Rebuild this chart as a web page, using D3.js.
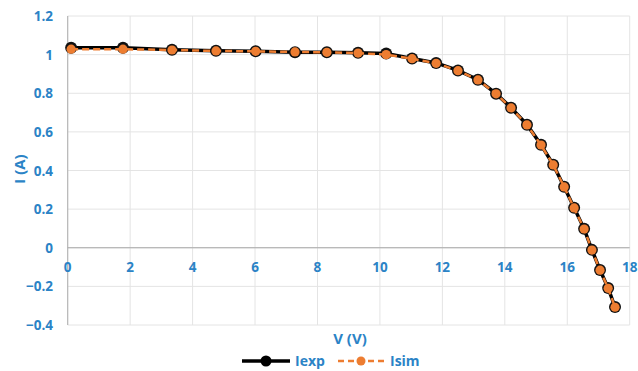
<!DOCTYPE html>
<html>
<head>
<meta charset="utf-8">
<script src="https://cdn.jsdelivr.net/npm/d3@7"></script>
<style>
  body { margin: 0; background: #fff; }
  svg text { font-family: "Open Sans", sans-serif; font-weight: bold; fill: #2b83c6; }
</style>
</head>
<body>
<div id="chart"></div>
<script>
// measured voltage (V) and current (A)
var voltage = [0.11, 1.77, 3.34, 4.75, 6.02, 7.28, 8.30, 9.30, 10.2, 11.03, 11.8, 12.5,
    13.14, 13.72, 14.2, 14.71, 15.16, 15.55, 15.9, 16.22, 16.54, 16.79, 17.05, 17.31, 17.53];
var iexp = [1.035, 1.035, 1.025, 1.02, 1.018, 1.012, 1.012, 1.01, 1.006, 0.98, 0.957, 0.918,
    0.87, 0.798, 0.725, 0.637, 0.533, 0.43, 0.316, 0.207, 0.098, -0.011, -0.115, -0.209, -0.307];
var isim = [1.028, 1.028, 1.024, 1.019, 1.017, 1.014, 1.012, 1.008, 1.0, 0.979, 0.955, 0.917,
    0.869, 0.797, 0.724, 0.636, 0.532, 0.429, 0.315, 0.206, 0.097, -0.012, -0.116, -0.21, -0.308];
var xTicks = [0, 2, 4, 6, 8, 10, 12, 14, 16, 18];
var yTicks = [-0.4, -0.2, 0, 0.2, 0.4, 0.6, 0.8, 1, 1.2];

var width = 638, height = 371;
var svg = d3.select("#chart").append("svg")
    .attr("width", width)
    .attr("height", height);

var x = d3.scaleLinear().domain([0, 18]).range([67.7, 629.7]);
var y = d3.scaleLinear().domain([-0.4, 1.2]).range([325, 16]);

// gridlines
svg.append("g").selectAll("line.h")
    .data(yTicks).enter().append("line")
    .attr("x1", x(0)).attr("x2", x(18))
    .attr("y1", function (d) { return y(d); })
    .attr("y2", function (d) { return y(d); })
    .attr("stroke", "#e4e4e4").attr("stroke-width", 1);

svg.append("g").selectAll("line.v")
    .data(xTicks.slice(1)).enter().append("line")
    .attr("x1", function (d) { return x(d); })
    .attr("x2", function (d) { return x(d); })
    .attr("y1", y(1.2)).attr("y2", y(-0.4))
    .attr("stroke", "#e4e4e4").attr("stroke-width", 1);

// axis lines
svg.append("line")
    .attr("x1", x(0)).attr("x2", x(0))
    .attr("y1", y(1.2)).attr("y2", y(-0.4))
    .attr("stroke", "#b4b4b4").attr("stroke-width", 1.2);
svg.append("line")
    .attr("x1", x(0)).attr("x2", x(18))
    .attr("y1", y(0)).attr("y2", y(0))
    .attr("stroke", "#a8a8a8").attr("stroke-width", 1.2);

// tick labels
svg.append("g").selectAll("text")
    .data(yTicks).enter().append("text")
    .attr("x", 53)
    .attr("y", function (d) { return y(d) + 5; })
    .attr("text-anchor", "end")
    .style("font-size", "13.5px")
    .text(function (d) { return d3.format("")(d); });

svg.append("g").selectAll("text")
    .data(xTicks).enter().append("text")
    .attr("x", function (d) { return x(d); })
    .attr("y", 272)
    .attr("text-anchor", "middle")
    .style("font-size", "13.5px")
    .text(function (d) { return d; });

// axis titles
svg.append("text")
    .attr("transform", "translate(25," + 169 + ") rotate(-90)")
    .attr("text-anchor", "middle")
    .style("font-size", "15px")
    .text("I (A)");

svg.append("text")
    .attr("x", 350)
    .attr("y", 344)
    .attr("text-anchor", "middle")
    .style("font-size", "15px")
    .text("V (V)");

var expData = voltage.map(function (v, i) { return [v, iexp[i]]; });
var simData = voltage.map(function (v, i) { return [v, isim[i]]; });
var line = d3.line()
    .x(function (d) { return x(d[0]); })
    .y(function (d) { return y(d[1]); });

// Iexp series
svg.append("path")
    .datum(expData)
    .attr("d", line)
    .attr("fill", "none")
    .attr("stroke", "#000")
    .attr("stroke-width", 3.5);
svg.append("g").selectAll("circle")
    .data(expData).enter().append("circle")
    .attr("cx", function (d) { return x(d[0]); })
    .attr("cy", function (d) { return y(d[1]); })
    .attr("r", 6)
    .attr("fill", "#111");

// Isim series
svg.append("path")
    .datum(simData)
    .attr("d", line)
    .attr("fill", "none")
    .attr("stroke", "#ed7d31")
    .attr("stroke-width", 2.5)
    .attr("stroke-dasharray", "7,4");
svg.append("g").selectAll("circle")
    .data(simData).enter().append("circle")
    .attr("cx", function (d) { return x(d[0]); })
    .attr("cy", function (d) { return y(d[1]); })
    .attr("r", 4.6)
    .attr("fill", "#ed7d31");

// legend
var legend = svg.append("g");
legend.append("line")
    .attr("x1", 242).attr("x2", 290).attr("y1", 361).attr("y2", 361)
    .attr("stroke", "#000").attr("stroke-width", 3.5);
legend.append("circle").attr("cx", 266).attr("cy", 361).attr("r", 5.5).attr("fill", "#000");
legend.append("text").attr("x", 295).attr("y", 366)
    .style("font-size", "14px").text("Iexp");

legend.append("line")
    .attr("x1", 338).attr("x2", 386).attr("y1", 361).attr("y2", 361)
    .attr("stroke", "#ed7d31").attr("stroke-width", 2.5)
    .attr("stroke-dasharray", "6,4");
legend.append("circle").attr("cx", 361).attr("cy", 361).attr("r", 4.5).attr("fill", "#ed7d31");
legend.append("text").attr("x", 390).attr("y", 366)
    .style("font-size", "14px").text("Isim");
</script>
</body>
</html>
